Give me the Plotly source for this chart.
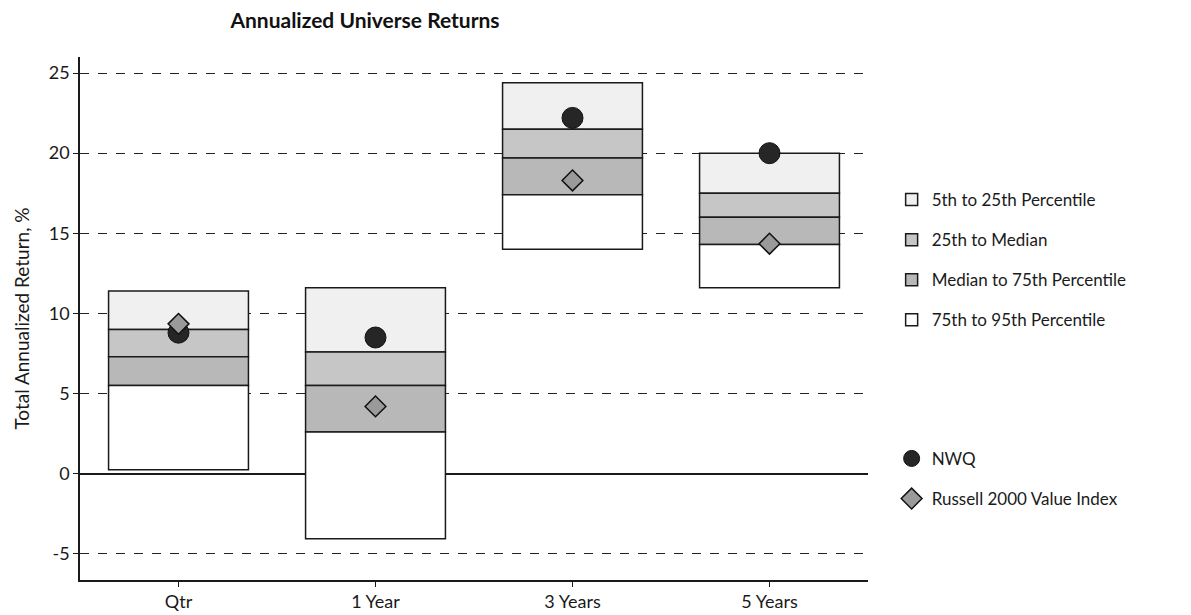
import plotly.graph_objects as go

# Universe percentile bands (total annualized return, %)
categories = ["Qtr", "1 Year", "3 Years", "5 Years"]
p5 = [11.4, 11.6, 24.4, 20.0]
p25 = [9.0, 7.6, 21.5, 17.5]
median = [7.3, 5.5, 19.7, 16.0]
p75 = [5.5, 2.6, 17.4, 14.3]
p95 = [0.25, -4.05, 14.0, 11.6]

# Portfolio and benchmark
nwq = [8.8, 8.5, 22.2, 20.0]
russell = [9.35, 4.2, 18.3, 14.35]

y_ticks = [-5, 0, 5, 10, 15, 20, 25]
y_tick_labels = ["-5", "0", "5", "10", "15", "20", "25"]

FONT = "Lato"
INK = "#1a1a1a"

bands = [
    ("5th to 25th Percentile", p5, p25, "#f0f0f0"),
    ("25th to Median", p25, median, "#c6c6c6"),
    ("Median to 75th Percentile", median, p75, "#b8b8b8"),
    ("75th to 95th Percentile", p75, p95, "#ffffff"),
]

fig = go.Figure()

for name, upper, lower, color in bands:
    fig.add_trace(go.Bar(
        x=categories,
        y=[u - l for u, l in zip(upper, lower)],
        base=lower,
        width=0.71,
        name=name,
        marker=dict(color=color, line=dict(color=INK, width=1.5)),
        legend="legend",
        legendgroup=name,
    ))

fig.add_trace(go.Scatter(
    x=categories, y=nwq, mode="markers", name="NWQ",
    marker=dict(symbol="circle", size=21, color="#262626",
                line=dict(color="#111111", width=1)),
    legend="legend2", legendgroup="nwq",
))
fig.add_trace(go.Scatter(
    x=categories, y=russell, mode="markers", name="Russell 2000 Value Index",
    marker=dict(symbol="diamond", size=16, color="#9a9a9a",
                line=dict(color="#111111", width=1.5)),
    legend="legend2", legendgroup="russell",
))

legend_font = dict(family=FONT, size=17, color=INK)

fig.update_layout(
    width=1191, height=615,
    margin=dict(l=80, r=323, t=57, b=35),
    paper_bgcolor="white", plot_bgcolor="white",
    barmode="overlay",
    font=dict(family=FONT, color=INK),
    title=dict(
        text="<b>Annualized Universe Returns</b>",
        x=365 / 1191, xanchor="center", xref="container",
        y=1 - 21 / 615, yanchor="middle", yref="container",
        font=dict(family=FONT, size=21, color="#111111"),
    ),
    legend=dict(
        x=1.03, xanchor="left", y=0.761, yanchor="top",
        font=legend_font, traceorder="grouped", tracegroupgap=15,
        bgcolor="rgba(0,0,0,0)",
    ),
    legend2=dict(
        x=1.03, xanchor="left", y=0.266, yanchor="top",
        font=legend_font, traceorder="grouped", tracegroupgap=15,
        bgcolor="rgba(0,0,0,0)",
    ),
    showlegend=True,
)

fig.update_xaxes(
    range=[-0.5, 3.5],
    automargin=False,
    showline=True, linecolor=INK, linewidth=1.5,
    ticks="outside", ticklen=5, tickcolor=INK,
    showgrid=False,
    tickfont=dict(family=FONT, size=18, color=INK),
)
fig.update_yaxes(
    range=[-6.63, 26.0],
    automargin=False,
    tickvals=y_ticks, ticktext=y_tick_labels,
    showline=True, linecolor=INK, linewidth=1.5,
    ticks="outside", ticklen=5, tickcolor=INK,
    showgrid=True, gridcolor="#222222", griddash="dash", gridwidth=1,
    zeroline=True, zerolinecolor=INK, zerolinewidth=1.5,
    tickfont=dict(family=FONT, size=18, color=INK),
    title=dict(text="Total Annualized Return, %", standoff=14,
               font=dict(family=FONT, size=19, color=INK)),
)

fig.write_html("out.html")
